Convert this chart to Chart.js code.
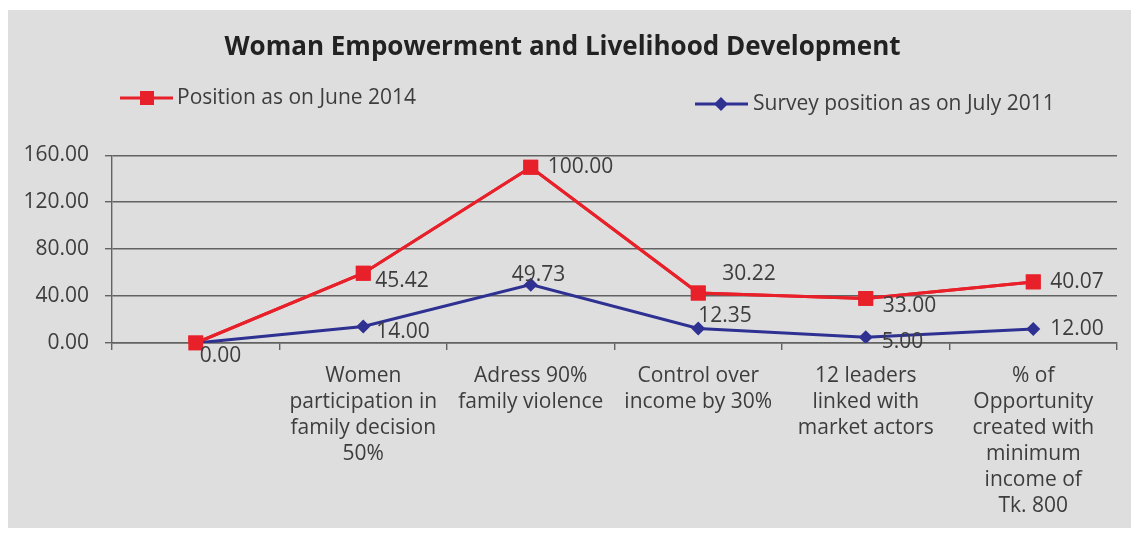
<!DOCTYPE html>
<html>
<head>
<meta charset="utf-8">
<script src="https://cdn.jsdelivr.net/npm/chart.js@4/dist/chart.umd.min.js"></script>
<style>
  html, body { margin: 0; padding: 0; background: #ffffff; }
  #panel {
    position: absolute; left: 8px; top: 10px;
    width: 1123px; height: 518px;
    background: #dedede;
  }
  #panel canvas { display: block; }
</style>
</head>
<body>
<div id="panel"><canvas id="chart" width="1123" height="518"></canvas></div>
<script>
// categories (first one has no label in the original)
const categories = [
  "",
  ["Women", "participation in", "family decision", "50%"],
  ["Adress 90%", "family violence"],
  ["Control over", "income by 30%"],
  ["12 leaders", "linked with", "market actors"],
  ["% of", "Opportunity", "created with", "minimum", "income of", "Tk. 800"]
];

// series values (stacked line chart: June 2014 sits on top of July 2011)
const survey2011 = [0.00, 14.00, 49.73, 12.35, 5.00, 12.00];
const position2014 = [0.00, 45.42, 100.00, 30.22, 33.00, 40.07];

// y axis ticks
const yTicks = [0, 40, 80, 120, 160];

const RED = "#e8202a";
const BLUE = "#2e3192";
const TEXT = "#3d3d3d";
const GRID = "#626262";
const FONT = "'Open Sans', sans-serif";
const FS = 21;

Chart.defaults.font.family = FONT;
Chart.defaults.font.size = FS;
Chart.defaults.color = TEXT;

// hand adjusted label offsets from each point [dx, dy], null = label hidden
const labelNudge = {
  survey: [null, [13, 5], [-19, -10], [0, -12], [16, 5], [17, 0]],
  position: [[4, 13], [12, 8], [17, 0], [24, -19], [17, 8], [17, 0]]
};

// draws the value labels and puts the red series back on top
const valueLabels = {
  id: "valueLabels",
  afterDatasetsDraw(chart) {
    const ctx = chart.ctx;
    chart.getDatasetMeta(1).controller.draw();

    ctx.save();
    ctx.font = FS + "px " + FONT;
    ctx.fillStyle = TEXT;
    ctx.textAlign = "left";
    ctx.textBaseline = "middle";
    chart.data.datasets.forEach((ds, i) => {
      const meta = chart.getDatasetMeta(i);
      const nudges = labelNudge[ds.key];
      meta.data.forEach((pt, j) => {
        const n = nudges[j];
        if (!n) return;
        ctx.fillText(ds.data[j].toFixed(2), pt.x + n[0], pt.y + n[1]);
      });
    });
    ctx.restore();
  }
};

// legend laid out like the original (two items on different rows)
const customLegend = {
  id: "customLegend",
  afterDraw(chart) {
    const ctx = chart.ctx;
    ctx.save();
    ctx.font = FS + "px " + FONT;
    ctx.textBaseline = "middle";

    // June 2014
    ctx.strokeStyle = RED;
    ctx.lineWidth = 3;
    ctx.beginPath();
    ctx.moveTo(112, 88);
    ctx.lineTo(165, 88);
    ctx.stroke();
    ctx.fillStyle = RED;
    ctx.fillRect(139 - 7, 88 - 7, 14, 14);
    ctx.fillStyle = TEXT;
    ctx.fillText(chart.data.datasets[1].label, 169, 88);

    // July 2011
    ctx.strokeStyle = BLUE;
    ctx.beginPath();
    ctx.moveTo(687, 94);
    ctx.lineTo(740, 94);
    ctx.stroke();
    ctx.fillStyle = BLUE;
    ctx.beginPath();
    ctx.moveTo(713, 87);
    ctx.lineTo(720, 94);
    ctx.lineTo(713, 101);
    ctx.lineTo(706, 94);
    ctx.closePath();
    ctx.fill();
    ctx.fillStyle = TEXT;
    ctx.fillText(chart.data.datasets[0].label, 745, 94);
    ctx.restore();
  }
};

new Chart(document.getElementById("chart"), {
  type: "line",
  data: {
    labels: categories,
    datasets: [
      {
        key: "survey",
        label: "Survey position as on July 2011",
        data: survey2011,
        borderColor: BLUE,
        backgroundColor: BLUE,
        borderWidth: 3,
        pointStyle: "rectRot",
        pointRadius: 7,
        pointBorderWidth: 0,
        tension: 0,
        fill: false
      },
      {
        key: "position",
        label: "Position as on June 2014",
        data: position2014,
        borderColor: RED,
        backgroundColor: RED,
        borderWidth: 3,
        pointStyle: "rect",
        pointRadius: 10.5,
        pointBorderWidth: 0,
        tension: 0,
        fill: false
      }
    ]
  },
  options: {
    responsive: false,
    animation: false,
    events: [],
    layout: { padding: { left: 0, right: 14, top: 0, bottom: 0 } },
    plugins: {
      legend: { display: false },
      tooltip: { enabled: false },
      title: {
        display: true,
        text: "Woman Empowerment and Livelihood Development",
        color: "#222222",
        font: { size: 26, weight: "bold" },
        padding: { top: 22, bottom: 92 }
      }
    },
    scales: {
      x: {
        offset: true,
        grid: {
          display: true,
          offset: true,
          drawOnChartArea: false,
          drawTicks: true,
          tickLength: 7,
          color: GRID,
          lineWidth: 1.4
        },
        border: { display: true, color: GRID, width: 1.4 },
        ticks: {
          padding: 13,
          maxRotation: 0,
          autoSkip: false,
          font: { size: FS, lineHeight: 1.24 }
        },
        afterFit(scale) { scale.height = 185; }
      },
      y: {
        stacked: true,
        min: 0,
        max: 160,
        afterBuildTicks(scale) {
          scale.ticks = yTicks.map((v) => ({ value: v }));
        },
        grid: {
          color: GRID,
          lineWidth: 1.4,
          tickLength: 7
        },
        border: { display: true, color: GRID, width: 1.4 },
        ticks: {
          padding: 16,
          callback: (v) => Number(v).toFixed(2)
        },
        afterFit(scale) { scale.width = 104; }
      }
    }
  },
  plugins: [valueLabels, customLegend]
});
</script>
</body>
</html>
